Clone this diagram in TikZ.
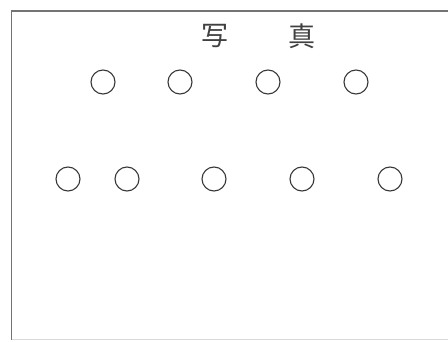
\documentclass[tikz,border=0pt]{standalone}
\usepackage{fontspec}
\newfontfamily\cjk{Noto Sans CJK JP}
\begin{document}
\begin{tikzpicture}[x=1pt,y=-1pt,
  hole/.style={circle,draw=black!78,line width=1.1pt,minimum size=24pt,inner sep=0pt},
  title/.style={font=\cjk\fontsize{27}{27}\selectfont,text=black!75,inner sep=0pt}]
\useasboundingbox (0,0) rectangle (448,342);
% frame
\draw[black!55,line width=1.4pt] (11.5,340) -- (11.5,11) -- (449,11);
\draw[black!15,line width=1pt] (11.5,340) -- (449,340);
% title
\node[title] (t1) at (215,36) {写};
\node[title] (t2) at (302,36) {真};
% top row
\node[hole] (a1) at (103,82) {};
\node[hole] (a2) at (180,82) {};
\node[hole] (a3) at (268,82) {};
\node[hole] (a4) at (356,82) {};
% bottom row
\node[hole] (b1) at (68,179) {};
\node[hole] (b2) at (127,179) {};
\node[hole] (b3) at (214,179) {};
\node[hole] (b4) at (302,179) {};
\node[hole] (b5) at (390,179) {};
\end{tikzpicture}
\end{document}
